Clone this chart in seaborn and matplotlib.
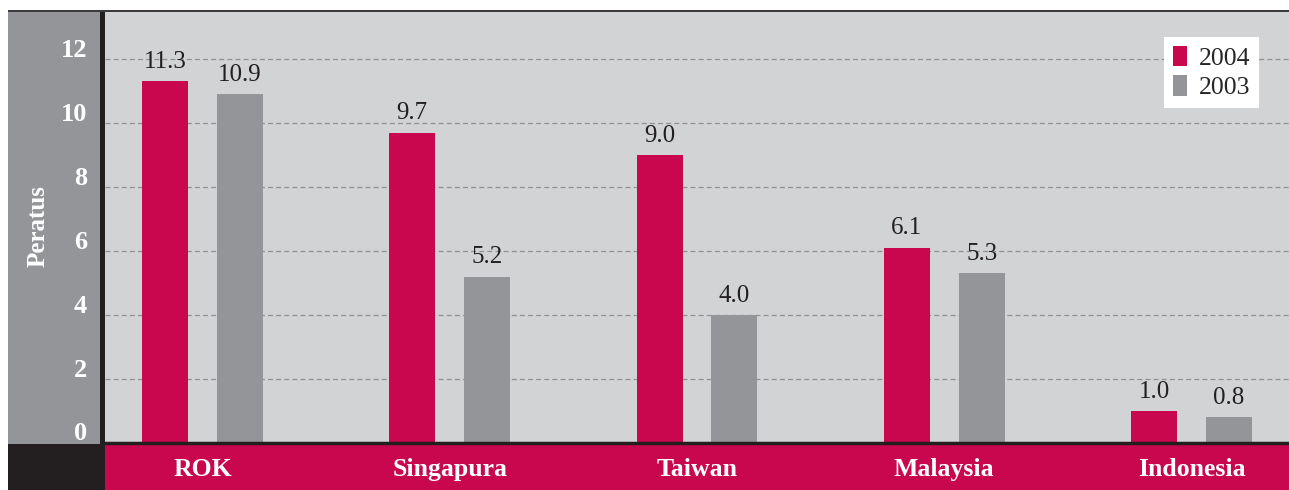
import matplotlib
matplotlib.use("Agg")
import matplotlib.pyplot as plt
import matplotlib.transforms as mtransforms
from matplotlib.patches import Rectangle
import seaborn as sns
import pandas as pd

# Data
countries = ["ROK", "Singapura", "Taiwan", "Malaysia", "Indonesia"]
growth_2004 = [11.3, 9.7, 9.0, 6.1, 1.0]
growth_2003 = [10.9, 5.2, 4.0, 5.3, 0.8]
years = ["2004", "2003"]
y_ticks = [0, 2, 4, 6, 8, 10, 12]
y_label = "Peratus"

CRIMSON = "#c8074f"
BAR_GRAY = "#939598"
PANEL_GRAY = "#939598"
PLOT_BG = "#d1d3d4"
DARK = "#231f20"
GRID = "#8e9092"

df = pd.DataFrame({
    "Negara": countries * 2,
    "Tahun": [years[0]] * len(countries) + [years[1]] * len(countries),
    "Peratus": growth_2004 + growth_2003,
})

sns.set_theme(style="white")
plt.rcParams["font.family"] = ["Liberation Serif", "DejaVu Serif"]

W, H = 1289, 490
fig = plt.figure(figsize=(W / 100, H / 100), dpi=100)
fig.patch.set_facecolor("white")


def box(x0, y0, x1, y1, color, z=0):
    """Filled rectangle in pixel coordinates (origin top-left)."""
    fig.add_artist(Rectangle((x0 / W, 1 - y1 / H), (x1 - x0) / W, (y1 - y0) / H,
                             transform=fig.transFigure, facecolor=color,
                             edgecolor="none", zorder=z))


# Frame pieces around the plotting area
box(8, 11, 100, 444, PANEL_GRAY)          # left label panel
box(8, 444, 105, 490, DARK)               # dark corner block
box(100, 11, 105, 490, DARK)              # vertical divider
box(105, 445, W, 490, CRIMSON)            # category band
box(8, 10, W, 12, "#3c3a3b", z=5)         # top rule

ax = fig.add_axes([105 / W, 1 - 443 / H, (W - 105) / W, (443 - 12) / H])
ax.set_facecolor(PLOT_BG)
for s in ax.spines.values():
    s.set_visible(False)

sns.barplot(data=df, x="Negara", y="Peratus", hue="Tahun", hue_order=years,
            palette=[CRIMSON, BAR_GRAY], saturation=1, width=0.606, gap=0.386,
            errorbar=None, ax=ax, zorder=3, linewidth=0, edgecolor="none")

ax.set_xlim(-0.394, len(countries) - 1 + 0.394)
ax.set_ylim(0, 13.47)

# Dashed grid lines
for t in y_ticks[1:]:
    ax.axhline(t, color=GRID, linestyle=(0, (4, 2.5)), linewidth=0.9, zorder=1)

# Baseline
ax.axhline(0, color=DARK, linewidth=2.5, zorder=4, clip_on=False)

# Value labels
for container, values in zip(ax.containers, [growth_2004, growth_2003]):
    ax.bar_label(container, labels=[f"{v:.1f}" for v in values], padding=6,
                 fontsize=18, color=DARK)

# Y tick labels in the side panel
ax.set_yticks([])
ylab_tr = ax.get_yaxis_transform() + mtransforms.ScaledTranslation(
    -18 / 100, 9 / 100, fig.dpi_scale_trans)
for t in y_ticks:
    ax.text(0, t, f"{t}", transform=ylab_tr, ha="right", va="center",
            fontsize=19, fontweight="bold", color="white", clip_on=False)

fig.text(38 / W, 1 - 226 / H, y_label, rotation=90, ha="center", va="center",
         fontsize=18, fontweight="bold", color="white")

# Category labels in the crimson band
ax.set_xlabel("")
ax.set_ylabel("")
ax.tick_params(axis="x", length=0, pad=11)
for lbl in ax.get_xticklabels():
    lbl.set_fontsize(18.5)
    lbl.set_fontweight("bold")
    lbl.set_color("white")

# Legend
handles, labels = ax.get_legend_handles_labels()
ax.legend(handles, labels, loc="upper right",
          bbox_to_anchor=(1259 / W, 1 - 37 / H), bbox_transform=fig.transFigure,
          frameon=True, facecolor="white", edgecolor="none", fancybox=False,
          framealpha=1, fontsize=18.5, handlelength=0.55, handleheight=0.85,
          handletextpad=0.45, borderpad=0.35, labelspacing=0.2, borderaxespad=0)

fig.savefig("out.png", dpi=100)
